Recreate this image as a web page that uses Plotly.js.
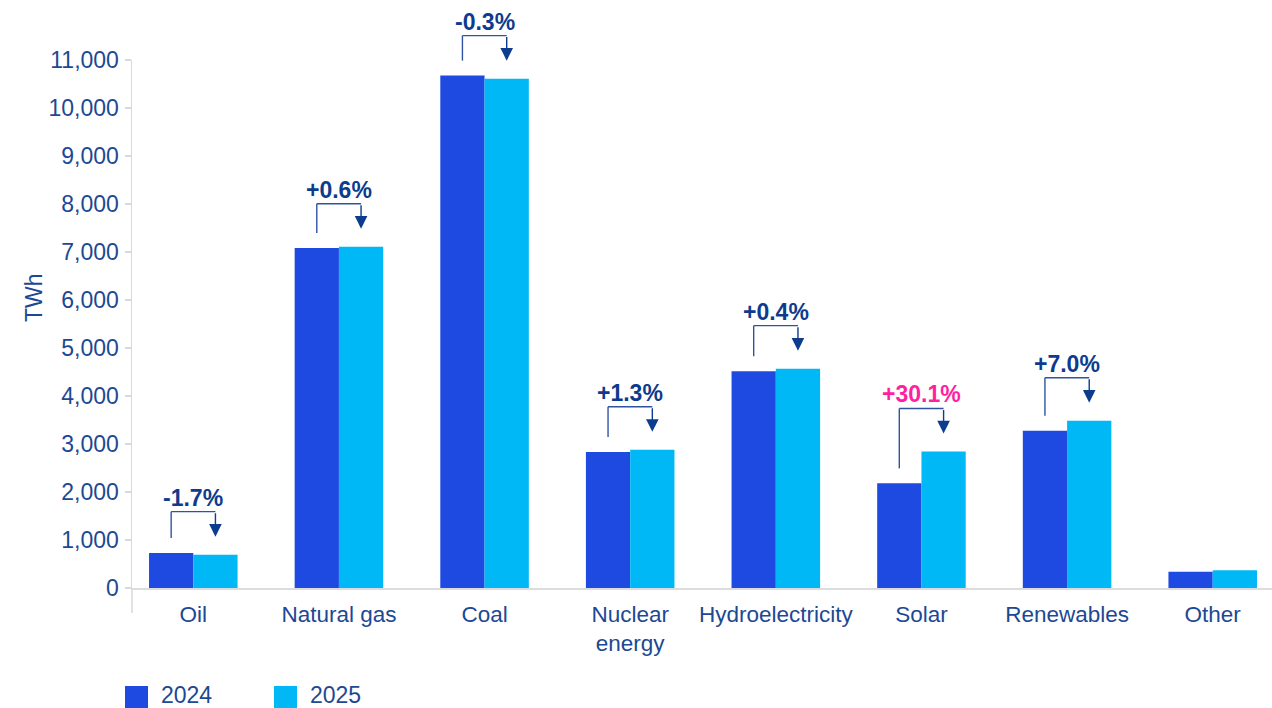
<!DOCTYPE html>
<html>
<head>
<meta charset="utf-8">
<script src="https://cdn.plot.ly/plotly-3.0.1.min.js"></script>
<style>html,body{margin:0;padding:0;background:#fff;}#chart{width:1272px;height:708px;}</style>
</head>
<body>
<div id="chart"></div>
<script>
// ---- data ----
const categories = ['Oil', 'Natural gas', 'Coal', 'Nuclear<br>energy', 'Hydroelectricity', 'Solar', 'Renewables', 'Other'];
const seriesNames = ['2024', '2025'];
const values2024 = [730, 7085, 10675, 2835, 4515, 2180, 3275, 340];
const values2025 = [695, 7110, 10610, 2880, 4570, 2845, 3485, 370];
const changeLabels = ['-1.7%', '+0.6%', '-0.3%', '+1.3%', '+0.4%', '+30.1%', '+7.0%', null];
const highlighted = ['Solar'];
const yTickVals = [0, 1000, 2000, 3000, 4000, 5000, 6000, 7000, 8000, 9000, 10000, 11000];
const yTickText = ['0', '1,000', '2,000', '3,000', '4,000', '5,000', '6,000', '7,000', '8,000', '9,000', '10,000', '11,000'];
const yTitle = 'TWh';

// ---- styles ----
const W = 1272, H = 708;
const M = {l: 132, r: 0, t: 60, b: 120};
const plotW = W - M.l - M.r, plotH = H - M.t - M.b;
const yMax = 11000;
const U = yMax / plotH;              // data units per pixel
const colors = ['#1f4ae2', '#00b8f5'];
const navy = '#0d3b8e';
const tickColor = '#1d4893';
const pink = '#ff1fa0';
const font = 'Arial, "Liberation Sans", Helvetica, sans-serif';
const bargap = 0.392;
const off = (1 - bargap) / 4;

const pxX = px => (px - M.l) / plotW;
const pxY = py => (M.t + plotH - py) / plotH;
const v2p = v => v / yMax;           // data value -> paper fraction (range starts at 0)

const traces = [values2024, values2025].map((vals, i) => ({
  type: 'bar',
  name: seriesNames[i],
  x: categories,
  y: vals,
  marker: {color: colors[i], line: {width: 0}},
  hoverinfo: 'x+y+name'
}));

const shapes = [];
const annotations = [];

categories.forEach((c, i) => {
  const lab = changeLabels[i];
  if (!lab) return;
  const xl = i - off, xr = i + off;
  const yb = values2024[i] + 15 * U;
  const tip = values2025[i] + 18 * U;
  const top = Math.max(tip, yb) + 25 * U;
  const lineStyle = {color: '#2f53a0', width: 1.4};
  shapes.push({type: 'line', xref: 'x', yref: 'paper', x0: xl, x1: xl, y0: v2p(yb), y1: v2p(top), line: lineStyle});
  shapes.push({type: 'line', xref: 'x', yref: 'paper', x0: xl, x1: xr, y0: v2p(top), y1: v2p(top), line: lineStyle});
  annotations.push({
    xref: 'x', yref: 'paper', axref: 'pixel', ayref: 'pixel',
    x: xr, y: v2p(tip), ax: 0, ay: -(top - tip) / U, text: '',
    showarrow: true, arrowhead: 2, arrowsize: 1.8, arrowwidth: 1.4, arrowcolor: navy, standoff: 0
  });
  const key = c.replace('<br>', ' ');
  annotations.push({
    xref: 'x', yref: 'paper', x: i, y: v2p(top), yshift: 14, yanchor: 'middle', xanchor: 'center',
    text: '<b>' + lab + '</b>', showarrow: false,
    font: {family: font, size: 23, color: highlighted.includes(key) ? pink : navy}
  });
});

// y axis extension below zero
shapes.push({type: 'line', xref: 'paper', yref: 'paper', x0: 0, x1: 0, y0: 0, y1: pxY(613), line: {color: '#d9d9d9', width: 1.5}});

// custom legend
const legendPos = [{sx: 125, tx: 159}, {sx: 274, tx: 308}];
seriesNames.forEach((n, i) => {
  const p = legendPos[i];
  shapes.push({type: 'rect', xref: 'paper', yref: 'paper', x0: pxX(p.sx), x1: pxX(p.sx + 23), y0: pxY(708), y1: pxY(686), fillcolor: colors[i], line: {width: 0}});
  annotations.push({xref: 'paper', yref: 'paper', x: pxX(p.tx), y: pxY(695), xanchor: 'left', yanchor: 'middle', text: n, showarrow: false, font: {family: font, size: 23, color: tickColor}});
});

// y title
annotations.push({xref: 'paper', yref: 'paper', x: pxX(34), y: pxY(298), xanchor: 'center', yanchor: 'middle', text: yTitle, textangle: -90, showarrow: false, font: {family: font, size: 23, color: tickColor}});

const layout = {
  width: W, height: H,
  margin: M,
  paper_bgcolor: '#fff', plot_bgcolor: '#fff',
  showlegend: false,
  barmode: 'group',
  bargap: bargap, bargroupgap: 0,
  font: {family: font, color: tickColor},
  xaxis: {
    type: 'category',
    range: [(M.l - 193.3) / 145.63, (W - 193.3) / 145.63],
    showline: true, linecolor: '#dcdcdc', linewidth: 2,
    ticks: '', showgrid: false, zeroline: false,
    ticklabelstandoff: 5,
    tickfont: {family: font, size: 22.5, color: tickColor},
    fixedrange: true
  },
  yaxis: {
    range: [0, yMax],
    tickvals: yTickVals, ticktext: yTickText,
    showline: true, linecolor: '#d9d9d9', linewidth: 1.5,
    ticks: 'outside', ticklen: 6, tickcolor: '#d9d9d9', tickwidth: 1.5,
    ticklabelstandoff: 1,
    showgrid: false, zeroline: false,
    tickfont: {family: font, size: 23, color: tickColor},
    fixedrange: true
  },
  shapes: shapes,
  annotations: annotations
};

Plotly.newPlot('chart', traces, layout, {displayModeBar: false, staticPlot: true});
</script>
</body>
</html>
